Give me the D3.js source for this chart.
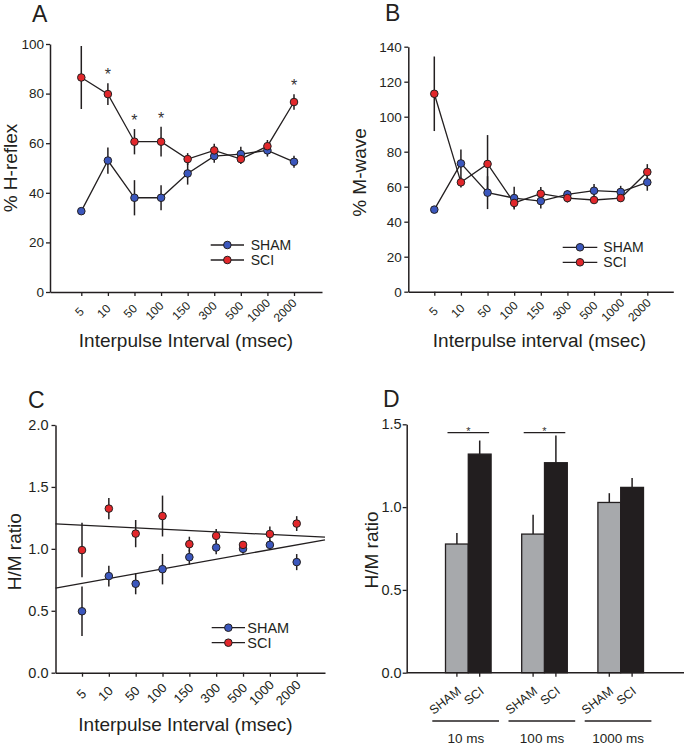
<!DOCTYPE html>
<html>
<head>
<meta charset="utf-8">
<script src="https://cdn.jsdelivr.net/npm/d3@7"></script>
<style>
  html, body { margin: 0; padding: 0; background: #ffffff; }
  svg { display: block; }
</style>
</head>
<body>
<svg id="chart" width="685" height="745"></svg>
<script>
// ---------------- DATA ----------------
const intervals = ["5", "10", "50", "100", "150", "300", "500", "1000", "2000"];

// Panel A: % H-reflex
const hShamMean = [32.6, 53.0, 38.0, 38.0, 47.8, 54.8, 55.6, 57.1, 52.5];
const hShamErr  = [1.0, 5.3, 7.1, 5.0, 4.5, 2.7, 3.0, 2.5, 2.4];
const hSciMean  = [86.5, 79.8, 60.6, 60.6, 53.6, 57.1, 53.6, 58.8, 76.6];
const hSciErr   = [12.7, 4.4, 5.1, 6.0, 2.4, 2.7, 2.0, 2.5, 3.1];
const hSignificant = ["10", "50", "100", "2000"];
const hTicks = [0, 20, 40, 60, 80, 100];

// Panel B: % M-wave
const mShamMean = [46.9, 73.3, 56.6, 53.5, 51.8, 55.6, 57.7, 57.0, 62.5];
const mShamErr  = [1.5, 8.0, 9.4, 6.5, 4.2, 2.5, 3.8, 3.5, 4.8];
const mSciMean  = [113.1, 62.5, 73.0, 50.7, 56.0, 53.5, 52.4, 53.5, 68.4];
const mSciErr   = [21.3, 3.0, 16.5, 3.0, 3.8, 2.5, 1.5, 1.5, 4.5];
const mTicks = [0, 20, 40, 60, 80, 100, 120, 140];

// Panel C: H/M ratio
const rShamMean = [0.496, 0.78, 0.718, 0.836, 0.933, 1.011, 1.0, 1.032, 0.893];
const rShamErr  = [0.2, 0.083, 0.085, 0.123, 0.06, 0.055, 0.04, 0.04, 0.065];
const rSciMean  = [0.99, 1.325, 1.123, 1.265, 1.038, 1.105, 1.032, 1.12, 1.204];
const rSciErr   = [0.22, 0.085, 0.11, 0.165, 0.06, 0.055, 0.03, 0.06, 0.06];
const rTicks = [0, 0.5, 1.0, 1.5, 2.0];
// regression lines: values at left and right ends of the x axis
const trendSham = [0.683, 1.073];
const trendSci  = [1.202, 1.094];

// Panel D: H/M ratio bars
const dGroups   = ["10 ms", "100 ms", "1000 ms"];
const dSeries   = ["SHAM", "SCI"];
const dShamMean = [0.777, 0.837, 1.028];
const dShamErr  = [0.066, 0.117, 0.056];
const dSciMean  = [1.32, 1.268, 1.119];
const dSciErr   = [0.082, 0.165, 0.056];
const dSignificant = ["10 ms", "100 ms"];
const dSigLevel = 1.45;
const dTicks = [0, 0.5, 1.0, 1.5];

// ---------------- STYLE ----------------
const FONT = "'Liberation Sans', Arial, Helvetica, sans-serif";
const INK = "#231f20";
const BLUE = "#3b57bd";
const RED = "#e2272b";
const GREY = "#a7a9ac";

const svg = d3.select("#chart").style("font-family", FONT);

function styleAxis(sel, fontSize) {
  sel.attr("font-family", FONT).attr("font-size", fontSize);
  sel.selectAll("path.domain").attr("stroke", INK).attr("stroke-width", 1.5);
  sel.selectAll(".tick line").attr("stroke", INK).attr("stroke-width", 1.3);
  sel.selectAll(".tick text").attr("fill", INK);
}

function panelLetter(txt, x, y) {
  svg.append("text").attr("x", x).attr("y", y).attr("font-size", 23)
    .attr("fill", INK).text(txt);
}

function yTitle(txt, x, y) {
  svg.append("text").attr("transform", `translate(${x},${y}) rotate(-90)`)
    .attr("text-anchor", "middle").attr("font-size", 19).attr("fill", INK).text(txt);
}

function xTitle(txt, x, y) {
  svg.append("text").attr("x", x).attr("y", y)
    .attr("text-anchor", "middle").attr("font-size", 19).attr("fill", INK).text(txt);
}

function legend(x0, x1, yS, yC, tx, fs) {
  const items = [{ name: "SHAM", color: BLUE, y: yS }, { name: "SCI", color: RED, y: yC }];
  const g = svg.append("g");
  items.forEach(it => {
    g.append("line").attr("x1", x0).attr("x2", x1).attr("y1", it.y).attr("y2", it.y)
      .attr("stroke", INK).attr("stroke-width", 1.3);
    g.append("circle").attr("cx", (x0 + x1) / 2).attr("cy", it.y).attr("r", 3.8)
      .attr("fill", it.color).attr("stroke", INK).attr("stroke-width", 1);
    g.append("text").attr("x", tx).attr("y", it.y + 5).attr("font-size", fs)
      .attr("fill", INK).text(it.name);
  });
}

function linePanel(cfg) {
  const n = intervals.length;
  const xi = d3.scaleLinear().domain([0, n - 1]).range([cfg.first, cfg.last]);
  const x = d3.scaleLinear().domain([xi.invert(cfg.left), xi.invert(cfg.right)]).range([cfg.left, cfg.right]);
  const y = d3.scaleLinear().domain(cfg.yDomain).range([cfg.bottom, cfg.top]);
  const g = svg.append("g");

  // axes
  const ya = g.append("g").attr("transform", `translate(${cfg.left},0)`)
    .call(d3.axisLeft(y).tickValues(cfg.yTicks).tickSize(4).tickSizeOuter(0)
      .tickPadding(cfg.yPad).tickFormat(cfg.yFmt));
  styleAxis(ya, cfg.yTickFont);
  const xa = g.append("g").attr("transform", `translate(0,${cfg.bottom})`)
    .call(d3.axisBottom(x).tickValues(d3.range(n)).tickSize(4).tickSizeOuter(0).tickFormat(""));
  styleAxis(xa, cfg.xTickFont);

  g.append("g").selectAll("text").data(intervals).join("text")
    .attr("font-size", cfg.xTickFont).attr("fill", INK).attr("text-anchor", "end")
    .text(d => d)
    .attr("transform", function (d, i) {
      const L = this.getComputedTextLength();
      return `translate(${x(i) + cfg.xlDx},${cfg.bottom + cfg.xlDy - 0.42 * L}) rotate(-45)`;
    });

  const series = [
    { mean: cfg.shamMean, err: cfg.shamErr, color: BLUE },
    { mean: cfg.sciMean, err: cfg.sciErr, color: RED }
  ];

  // error bars
  series.forEach(s => {
    g.append("g").selectAll("line").data(s.mean).join("line")
      .attr("x1", (d, i) => x(i)).attr("x2", (d, i) => x(i))
      .attr("y1", (d, i) => y(d - s.err[i])).attr("y2", (d, i) => y(d + s.err[i]))
      .attr("stroke", INK).attr("stroke-width", 1.5);
  });

  // connecting lines
  if (cfg.connect) {
    series.forEach(s => {
      g.append("path").datum(s.mean)
        .attr("d", d3.line().x((d, i) => x(i)).y(d => y(d)))
        .attr("fill", "none").attr("stroke", INK).attr("stroke-width", 1.3);
    });
  }
  // trend lines
  if (cfg.trends) {
    const ends = [x.domain()[0], x.domain()[1]];
    cfg.trends.forEach(t => {
      g.append("path").datum(t)
        .attr("d", d3.line().x((d, i) => x(ends[i])).y(d => y(d)))
        .attr("fill", "none").attr("stroke", INK).attr("stroke-width", 1.3);
    });
  }

  // points
  series.forEach(s => {
    g.append("g").selectAll("circle").data(s.mean).join("circle")
      .attr("cx", (d, i) => x(i)).attr("cy", d => y(d)).attr("r", 3.8)
      .attr("fill", s.color).attr("stroke", INK).attr("stroke-width", 1);
  });

  // significance
  if (cfg.sig) {
    g.append("g").selectAll("text").data(cfg.sig).join("text")
      .attr("x", d => x(intervals.indexOf(d)))
      .attr("y", d => { const i = intervals.indexOf(d); return y(cfg.sciMean[i] + cfg.sciErr[i]) - 3; })
      .attr("text-anchor", "middle").attr("font-size", 16).attr("fill", "#333").text("*");
  }
}

// Panel A
linePanel({
  left: 50, right: 322, first: 81.3, last: 294, top: 44, bottom: 292,
  yDomain: [0, 100], yTicks: hTicks, yFmt: d3.format("d"), yPad: 2, yTickFont: 13.5,
  xTickFont: 12, xlDx: 3.5, xlDy: 23,
  shamMean: hShamMean, shamErr: hShamErr, sciMean: hSciMean, sciErr: hSciErr,
  connect: true, sig: hSignificant
});
panelLetter("A", 32, 22);
yTitle("% H-reflex", 17, 168);
xTitle("Interpulse Interval (msec)", 186, 347);
legend(210.7, 244, 245, 260, 250.7, 14);

// Panel B
linePanel({
  left: 408.3, right: 673.3, first: 434.3, last: 647.3, top: 46.7, bottom: 291.7,
  yDomain: [0, 140], yTicks: mTicks, yFmt: d3.format("d"), yPad: 2.5, yTickFont: 13.5,
  xTickFont: 12, xlDx: 4.5, xlDy: 23,
  shamMean: mShamMean, shamErr: mShamErr, sciMean: mSciMean, sciErr: mSciErr,
  connect: true
});
panelLetter("B", 385, 21);
yTitle("% M-wave", 366, 172.5);
xTitle("Interpulse interval (msec)", 539.5, 347);
legend(562.7, 597.3, 247.3, 262.3, 603.3, 14);

// Panel C
linePanel({
  left: 55.5, right: 325, first: 82, last: 296.7, top: 425, bottom: 672.7,
  yDomain: [0, 2], yTicks: rTicks, yFmt: d3.format(".1f"), yPad: 3, yTickFont: 14.5,
  xTickFont: 13, xlDx: 5, xlDy: 25,
  shamMean: rShamMean, shamErr: rShamErr, sciMean: rSciMean, sciErr: rSciErr,
  connect: false, trends: [trendSham, trendSci]
});
panelLetter("C", 28, 408);
yTitle("H/M ratio", 21, 551.7);
xTitle("Interpulse Interval (msec)", 185.5, 731);
legend(211.7, 245, 627.7, 642.7, 247.3, 14.5);

// Panel D
(function () {
  const left = 406.7, right = 684, top = 424.3, bottom = 672.7;
  const y = d3.scaleLinear().domain([0, 1.5]).range([bottom, top]);
  const xg = d3.scalePoint().domain(dGroups).range([468.3, 620.7]);
  const bw = 22.8;
  const xs = d3.scaleBand().domain(dSeries).range([-bw, bw]).padding(0);
  const g = svg.append("g");

  const ya = g.append("g").attr("transform", `translate(${left},0)`)
    .call(d3.axisLeft(y).tickValues(dTicks).tickSize(4).tickSizeOuter(0)
      .tickPadding(1).tickFormat(d3.format(".1f")));
  styleAxis(ya, 14.5);

  const bars = [];
  dGroups.forEach((grp, i) => {
    bars.push({ grp, s: "SHAM", m: dShamMean[i], e: dShamErr[i], fill: GREY });
    bars.push({ grp, s: "SCI", m: dSciMean[i], e: dSciErr[i], fill: "#221e1f" });
  });

  // error bars (upward)
  g.append("g").selectAll("line").data(bars).join("line")
    .attr("x1", d => xg(d.grp) + xs(d.s) + bw / 2).attr("x2", d => xg(d.grp) + xs(d.s) + bw / 2)
    .attr("y1", d => y(d.m)).attr("y2", d => y(d.m + d.e))
    .attr("stroke", INK).attr("stroke-width", 1.5);

  g.append("g").selectAll("rect").data(bars).join("rect")
    .attr("x", d => xg(d.grp) + xs(d.s)).attr("width", bw)
    .attr("y", d => y(d.m)).attr("height", d => y(0) - y(d.m))
    .attr("fill", d => d.fill).attr("stroke", INK).attr("stroke-width", 1.3);

  // x axis line and ticks
  g.append("line").attr("x1", left).attr("x2", right).attr("y1", bottom).attr("y2", bottom)
    .attr("stroke", INK).attr("stroke-width", 1.5);
  g.append("g").selectAll("line").data(bars).join("line")
    .attr("x1", d => xg(d.grp) + xs(d.s) + bw / 2).attr("x2", d => xg(d.grp) + xs(d.s) + bw / 2)
    .attr("y1", bottom).attr("y2", bottom + 4).attr("stroke", INK).attr("stroke-width", 1.3);

  g.append("g").selectAll("text").data(bars).join("text")
    .attr("font-size", 12.5).attr("fill", INK).attr("text-anchor", "end")
    .attr("transform", d => `translate(${xg(d.grp) + xs(d.s) + bw / 2 + 5},${bottom + 20}) rotate(-38)`)
    .text(d => d.s);

  // group underlines and labels
  g.append("g").selectAll("line").data(dGroups).join("line")
    .attr("x1", d => xg(d) - 36).attr("x2", d => xg(d) + 30.7)
    .attr("y1", 721).attr("y2", 721).attr("stroke", INK).attr("stroke-width", 1.5);
  g.append("g").selectAll("text").data(dGroups).join("text")
    .attr("x", d => xg(d) - 2.5).attr("y", 743).attr("text-anchor", "middle")
    .attr("font-size", 13.5).attr("fill", INK).text(d => d);

  // significance
  g.append("g").selectAll("line").data(dSignificant).join("line")
    .attr("x1", d => xg(d) - bw + 2).attr("x2", d => xg(d) + bw - 2)
    .attr("y1", y(dSigLevel)).attr("y2", y(dSigLevel)).attr("stroke", INK).attr("stroke-width", 1.3);
  g.append("g").selectAll("text").data(dSignificant).join("text")
    .attr("x", d => xg(d)).attr("y", y(dSigLevel) + 2)
    .attr("text-anchor", "middle").attr("font-size", 11).attr("fill", "#333").text("*");
})();
panelLetter("D", 383, 407);
yTitle("H/M ratio", 378, 550);
</script>
</body>
</html>
